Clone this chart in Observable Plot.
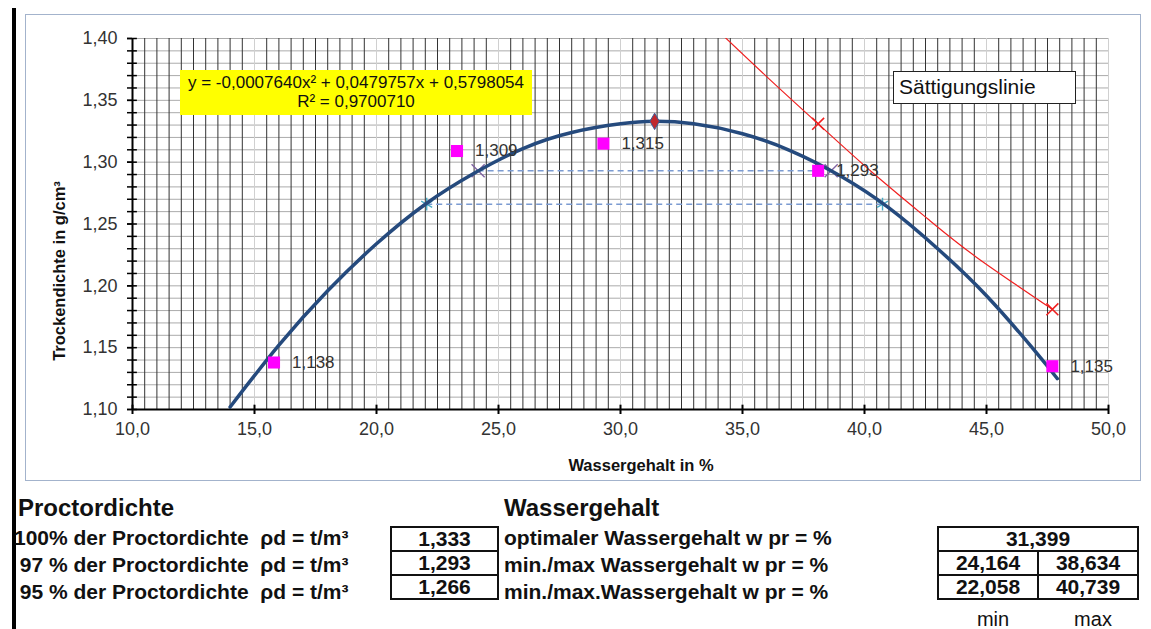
<!DOCTYPE html>
<html><head><meta charset="utf-8">
<script src="https://cdn.jsdelivr.net/npm/d3@7"></script>
<script src="https://cdn.jsdelivr.net/npm/@observablehq/plot@0.6"></script>
<style>
body{margin:0;background:#fff;font-family:"Liberation Sans",Arial,sans-serif;color:#111;}
#wrap{position:relative;width:1151px;height:629px;overflow:hidden;background:#fff;}
#bar{position:absolute;left:12px;top:8px;width:4px;height:630px;background:#000;}
#frame{position:absolute;left:25px;top:14px;width:1114px;height:465px;border:1.5px solid #a3b3cc;background:#fff;}
#chart{position:absolute;left:0;top:0;}
#eq{position:absolute;left:180px;top:70px;width:352px;height:45px;background:#ffff00;font-size:17px;text-align:center;line-height:19px;padding-top:3px;box-sizing:border-box;color:#111;}
#legend{position:absolute;left:893px;top:71px;width:183px;height:33px;border:1.5px solid #222;box-sizing:border-box;font-size:21px;line-height:30px;padding-left:5px;background:#fff;color:#111;}
#ylab{position:absolute;left:59px;top:271px;transform:translate(-50%,-50%) rotate(-90deg);white-space:nowrap;font-weight:bold;font-size:16.5px;color:#111;}
#xlab{position:absolute;left:641px;top:465px;transform:translate(-50%,-50%);white-space:nowrap;font-weight:bold;font-size:16.5px;color:#111;}
.hdr{position:absolute;font-weight:bold;font-size:24px;line-height:28px;white-space:pre;}
.lbl{position:absolute;font-weight:bold;font-size:21px;line-height:26px;white-space:pre;}
table.box{position:absolute;border-collapse:collapse;font-weight:bold;font-size:21px;}
table.box td{border:2px solid #111;text-align:center;height:22px;padding:0;line-height:22px;}
.mm{position:absolute;font-size:20px;transform:translateX(-50%);top:607px;line-height:24px;}
</style></head><body>
<div id="wrap">
  <div id="bar"></div>
  <div id="frame"></div>
  <div id="chart"></div>
  <div id="eq"></div>
  <div id="legend"></div>
  <div id="ylab"></div>
  <div id="xlab"></div>
  <div id="tables"></div>
</div>
<script>
// ---- data ----
const measW   = [15.8, 23.3, 29.3, 38.1, 47.7];
const measRho = [1.138, 1.309, 1.315, 1.293, 1.135];

const fitW   = [14, 16, 18, 20, 22, 24, 26, 28, 30, 31.4, 33, 35, 37, 39, 41, 43, 45, 47, 47.9];
const fitRho = [1.102, 1.152, 1.196, 1.234, 1.266, 1.291, 1.311, 1.324, 1.331, 1.333, 1.331, 1.323, 1.309, 1.289, 1.263, 1.230, 1.192, 1.147, 1.125];

const satW   = [33.8, 36.0, 38.1, 40.3, 42.6, 44.6, 47.7];
const satRho = [1.410, 1.369, 1.331, 1.292, 1.254, 1.223, 1.181];
const satMarkW   = [38.1, 47.7];
const satMarkRho = [1.331, 1.181];

const optW = 31.399, rho100 = 1.333;
const rho97 = 1.293, w97 = [24.164, 38.634];
const rho95 = 1.266, w95 = [22.058, 40.739];

const xTicks = [10, 15, 20, 25, 30, 35, 40, 45, 50];
const yTicks = [1.10, 1.15, 1.20, 1.25, 1.30, 1.35, 1.40];

const eqLines = ["y = -0,0007640x² + 0,0479757x + 0,5798054", "R² = 0,9700710"];
const legendText = "Sättigungslinie";
const yTitle = "Trockendichte in g/cm³";
const xTitle = "Wassergehalt in %";

const procHeader = "Proctordichte";
const procLabels = ["100% der Proctordichte  ρd = t/m³", " 97 % der Proctordichte  ρd = t/m³", " 95 % der Proctordichte  ρd = t/m³"];
const procValues = [rho100, rho97, rho95];
const wHeader = "Wassergehalt";
const wLabels = ["optimaler Wassergehalt w pr = %", "min./max Wassergehalt w pr = %", "min./max.Wassergehalt w pr = %"];

// ---- helpers ----
const comma = (v, n) => v.toFixed(n).replace(".", ",");
const meas = measW.map((w, i) => ({w, rho: measRho[i]}));
const fit = fitW.map((w, i) => ({w, rho: fitRho[i]}));
const sat = satW.map((w, i) => ({w, rho: satRho[i]}));
const satMarks = satMarkW.map((w, i) => ({w, rho: satMarkRho[i]}));
const ends97 = w97.map(w => ({w, rho: rho97}));
const ends95 = w95.map(w => ({w, rho: rho95}));

const xGridMinor = d3.range(10.5, 50, 0.5).filter(v => Math.abs(v % 5) > 1e-6);
const xGridMajor = xTicks.slice(1);
const yGrid = d3.range(1, 31).map(i => 1.10 + i * 0.01);
const yMinorTicks = d3.range(0, 31).map(i => 1.10 + i * 0.01);

const font = "'Liberation Sans', Arial, sans-serif";

const chart = Plot.plot({
  width: 1151, height: 480,
  marginLeft: 132, marginRight: 43, marginTop: 38, marginBottom: 71,
  style: {background: "transparent", fontFamily: font, fontSize: "18px", color: "#333"},
  x: {domain: [10, 50], label: null},
  y: {domain: [1.10, 1.40], label: null},
  marks: [
    Plot.ruleY(yGrid, {stroke: "#ababab", strokeWidth: 1}),
    Plot.ruleX(xGridMinor, {stroke: "#333", strokeWidth: 1}),
    Plot.ruleX(xGridMajor, {stroke: "#d0d0d0", strokeWidth: 1}),
    // axes
    Plot.axisY({ticks: yMinorTicks, tickSize: 5, tickFormat: () => "", label: null, stroke: "#000", strokeWidth: 1.5}),
    Plot.axisY({ticks: yTicks, tickSize: 5, tickPadding: 10, tickFormat: d => comma(d, 2), label: null, stroke: "#000", strokeWidth: 1.5, fill: "#333", fontSize: 18}),
    Plot.ruleY(yMinorTicks, {x1: 10, x2: 10.2, stroke: "#000", strokeWidth: 1.5}),
    Plot.axisX({ticks: xTicks, tickSize: 5, tickPadding: 8, tickFormat: d => comma(d, 1), label: null, stroke: "#000", strokeWidth: 2, fill: "#333", fontSize: 18}),
    Plot.ruleX(xTicks, {y1: 1.10, y2: 1.1035, stroke: "#000", strokeWidth: 2}),
    Plot.ruleY([1.10], {stroke: "#000", strokeWidth: 2}),
    Plot.ruleX([10], {stroke: "#000", strokeWidth: 2}),
    // 97% / 95% dashed lines
    Plot.ruleY([rho97], {x1: w97[0], x2: w97[1], stroke: "#7b9bd2", strokeWidth: 1.6, strokeDasharray: "6,4"}),
    Plot.ruleY([rho95], {x1: w95[0], x2: w95[1], stroke: "#7b9bd2", strokeWidth: 1.6, strokeDasharray: "6,4"}),
    Plot.dot(ends97, {x: "w", y: "rho", symbol: "times", r: 6, stroke: "#8064a2", strokeWidth: 1.4}),
    Plot.dot(ends95, {x: "w", y: "rho", symbol: "asterisk", r: 6, stroke: "#4bacc6", strokeWidth: 1.4}),
    // fit curve
    Plot.line(fit, {x: "w", y: "rho", curve: "natural", stroke: "#254a7d", strokeWidth: 3.5}),
    // saturation line
    Plot.line(sat, {x: "w", y: "rho", curve: "natural", stroke: "#f02020", strokeWidth: 1.2, clip: true}),
    Plot.dot(satMarks, {x: "w", y: "rho", symbol: "times", r: 5.5, stroke: "#f02020", strokeWidth: 1.6}),
    // measured points
    Plot.dot(meas, {x: "w", y: "rho", symbol: "square", r: 6.8, fill: "#ff00ff", stroke: "none"}),
    Plot.text(meas, {x: "w", y: "rho", text: d => comma(d.rho, 3), dx: 18, textAnchor: "start", fill: "#333", fontSize: 17}),
    // optimum
    Plot.dot([{w: optW, rho: rho100}], {x: "w", y: "rho", symbol: "diamond", r: 5, fill: "#c0282d", stroke: "#3a5f9a", strokeWidth: 1})
  ]
});
document.getElementById("chart").appendChild(chart);

document.getElementById("eq").innerHTML = eqLines.map(s => `<div>${s}</div>`).join("");
document.getElementById("legend").textContent = legendText;
document.getElementById("ylab").textContent = yTitle;
document.getElementById("xlab").textContent = xTitle;

// ---- tables below chart ----
const t = document.getElementById("tables");
let html = "";
html += `<div class="hdr" style="left:18px;top:494px">${procHeader}</div>`;
html += `<div class="hdr" style="left:504px;top:494px">${wHeader}</div>`;
const rowTops = [525, 552, 579];
procLabels.forEach((s, i) => { html += `<div class="lbl" style="left:14px;top:${rowTops[i]}px">${s}</div>`; });
wLabels.forEach((s, i) => { html += `<div class="lbl" style="left:504px;top:${rowTops[i]}px">${s}</div>`; });
html += `<table class="box" style="left:390px;top:526px;width:109px">` +
  procValues.map(v => `<tr><td>${comma(v, 3)}</td></tr>`).join("") + `</table>`;
html += `<table class="box" style="left:937px;top:526px;width:202px">` +
  `<tr><td colspan="2">${comma(optW, 3)}</td></tr>` +
  `<tr><td style="width:50%">${comma(w97[0], 3)}</td><td>${comma(w97[1], 3)}</td></tr>` +
  `<tr><td>${comma(w95[0], 3)}</td><td>${comma(w95[1], 3)}</td></tr></table>`;
html += `<div class="mm" style="left:993px">min</div><div class="mm" style="left:1093px">max</div>`;
t.innerHTML = html;
</script>
</body></html>
